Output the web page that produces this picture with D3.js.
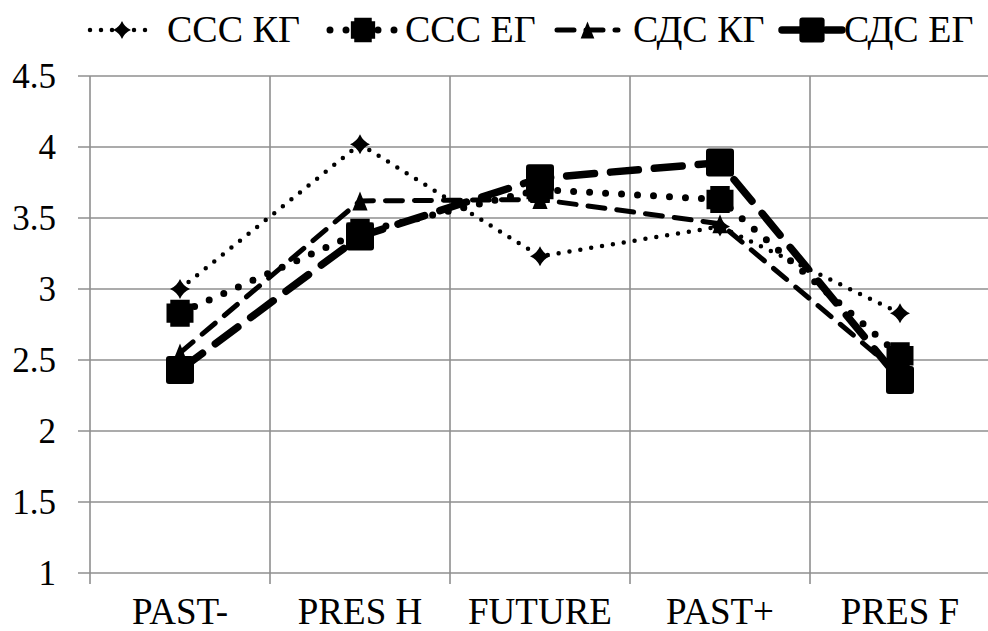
<!DOCTYPE html>
<html>
<head>
<meta charset="utf-8">
<script src="https://cdn.jsdelivr.net/npm/d3@7"></script>
</head>
<body style="margin:0">
<svg id="fig" width="988" height="631" style="display:block;background:#fff"></svg>
<script>
// Categories on the x axis
const categories = ["PAST-", "PRES H", "FUTURE", "PAST+", "PRES F"];

// Series names
const seriesNames = ["ССС КГ", "ССС ЕГ", "СДС КГ", "СДС ЕГ"];

// Series values (one per category)
const cccKG = [3.00, 4.02, 3.23, 3.44, 2.83];
const cccEG = [2.83, 3.40, 3.70, 3.63, 2.53];
const cdcKG = [2.55, 3.62, 3.63, 3.46, 2.40];
const cdcEG = [2.43, 3.37, 3.78, 3.89, 2.36];

// Y axis tick labels
const yTicks = [1, 1.5, 2, 2.5, 3, 3.5, 4, 4.5];

const FONT = "Times New Roman";
const svg = d3.select("#fig");
const plotL = 90, plotR = 990, plotT = 76, plotB = 573;
const grid = "#8f8f8f";

const x = d3.scaleBand().domain(categories).range([plotL, plotR]).padding(0);
const y = d3.scaleLinear().domain([1, 4.5]).range([plotB, plotT]);
const cx = c => x(c) + x.bandwidth() / 2;

// Horizontal gridlines and left tick marks
svg.append("g").selectAll("line").data(yTicks).join("line")
  .attr("x1", plotL - 12).attr("x2", plotR)
  .attr("y1", d => y(d)).attr("y2", d => y(d))
  .attr("stroke", grid).attr("stroke-width", 1.6);
svg.append("line").attr("x1", plotL).attr("x2", plotL)
  .attr("y1", plotT).attr("y2", plotB)
  .attr("stroke", grid).attr("stroke-width", 1.6);
svg.append("g").selectAll("text").data(yTicks).join("text")
  .attr("x", plotL - 34).attr("y", d => y(d)).attr("dy", "0.34em")
  .attr("text-anchor", "end")
  .style("font-family", FONT).attr("font-size", 35)
  .text(d => String(d));

// Vertical gridlines at category boundaries
const bounds = categories.map(c => x(c)).concat([plotR]);
svg.append("g").selectAll("line").data(bounds.slice(1)).join("line")
  .attr("x1", d => d).attr("x2", d => d)
  .attr("y1", plotT).attr("y2", plotB)
  .attr("stroke", grid).attr("stroke-width", 1.6);

// Category axis along the bottom
svg.append("g").selectAll("line").data(bounds).join("line")
  .attr("x1", d => d).attr("x2", d => d)
  .attr("y1", plotB).attr("y2", plotB + 11)
  .attr("stroke", grid).attr("stroke-width", 1.6);
svg.append("g").selectAll("text").data(categories).join("text")
  .style("font-family", FONT).attr("font-size", 37)
  .attr("x", d => cx(d)).attr("y", 624)
  .attr("text-anchor", "middle")
  .text(d => d);

// Marker shapes
function diamondPath(s) {
  const h = s / 2;
  return `M0,${-h} Q${h*0.3},${-h*0.3} ${h},0 Q${h*0.3},${h*0.3} 0,${h} Q${-h*0.3},${h*0.3} ${-h},0 Q${-h*0.3},${-h*0.3} 0,${-h}Z`;
}
function fatCrossPath(s) {
  const h = s / 2, n = s * 0.14;
  return `M${-h+n},${-h} H${h-n} V${-h+n} H${h} V${h-n} H${h-n} V${h} H${-h+n} V${h-n} H${-h} V${-h+n} H${-h+n}Z`;
}
function trianglePath(s) {
  const h = s / 2;
  return `M0,${-h} L${h*0.8},${h} L${-h*0.8},${h}Z`;
}
function squarePath(s) {
  const h = s / 2, r = 3;
  return `M${-h+r},${-h} H${h-r} Q${h},${-h} ${h},${-h+r} V${h-r} Q${h},${h} ${h-r},${h} H${-h+r} Q${-h},${h} ${-h},${h-r} V${-h+r} Q${-h},${-h} ${-h+r},${-h}Z`;
}

const series = [
  { name: seriesNames[0], values: cccKG, width: 4.5, dash: "0 11", marker: diamondPath, size: 20 },
  { name: seriesNames[1], values: cccEG, width: 7, dash: "0 16", marker: fatCrossPath, size: 27 },
  { name: seriesNames[2], values: cdcKG, width: 5, dash: "17 12", marker: trianglePath, size: 19 },
  { name: seriesNames[3], values: cdcEG, width: 7.5, dash: "28 16", marker: squarePath, size: 28 }
];

const line = d3.line().x((d, i) => cx(categories[i])).y(d => y(d));

series.forEach(s => {
  const g = svg.append("g");
  g.append("path").datum(s.values)
    .attr("d", line)
    .attr("fill", "none").attr("stroke", "#000")
    .attr("stroke-width", s.width)
    .attr("stroke-linecap", "round")
    .attr("stroke-linejoin", "round")
    .attr("stroke-dasharray", s.dash);
  g.selectAll("path.m").data(s.values).join("path")
    .attr("class", "m")
    .attr("transform", (d, i) => `translate(${cx(categories[i])},${y(d)})`)
    .attr("d", s.marker(s.size))
    .attr("fill", "#000");
});

// Legend
const legendItems = [
  { s: series[0], x1: 90, x2: 154, tx: 167 },
  { s: series[1], x1: 330, x2: 396, tx: 405 },
  { s: series[2], x1: 557, x2: 618, tx: 633 },
  { s: series[3], x1: 782, x2: 842, tx: 844 }
];
const ly = 30;
legendItems.forEach(it => {
  const g = svg.append("g");
  const mx = (it.x1 + it.x2) / 2;
  g.append("line").attr("x1", it.x1).attr("x2", it.x2)
    .attr("y1", ly).attr("y2", ly)
    .attr("stroke", "#000").attr("stroke-width", it.s.width)
    .attr("stroke-linecap", "round")
    .attr("stroke-dasharray", it.s.dash);
  g.append("path").attr("transform", `translate(${mx},${ly})`)
    .attr("d", it.s.marker(it.s.size * 0.9)).attr("fill", "#000");
  g.append("text").style("font-family", FONT).attr("font-size", 38)
    .attr("x", it.tx).attr("y", ly + 12)
    .text(it.s.name);
});
</script>
</body>
</html>
